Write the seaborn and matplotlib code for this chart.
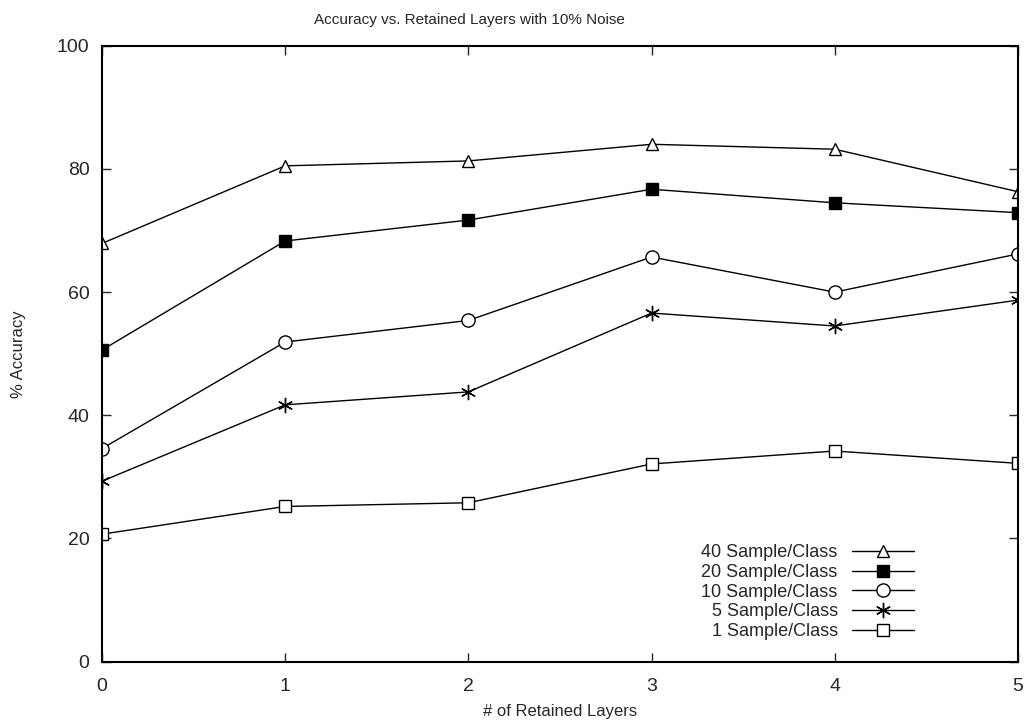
import numpy as np
import pandas as pd
import matplotlib
matplotlib.use('Agg')
import matplotlib.pyplot as plt
import seaborn as sns

# data
layers = [0, 1, 2, 3, 4, 5]
acc_40 = [67.9, 80.5, 81.3, 84.0, 83.2, 76.3]
acc_20 = [50.6, 68.3, 71.7, 76.7, 74.5, 72.9]
acc_10 = [34.6, 51.9, 55.4, 65.7, 60.0, 66.2]
acc_5 = [29.3, 41.7, 43.8, 56.6, 54.5, 58.7]
acc_1 = [20.7, 25.2, 25.8, 32.1, 34.2, 32.2]
labels = ['40 Sample/Class', '20 Sample/Class', '10 Sample/Class',
          '5 Sample/Class', '1 Sample/Class']
yticks = [0, 20, 40, 60, 80, 100]

series = [acc_40, acc_20, acc_10, acc_5, acc_1]
markers = ['^', 's', 'o', (6, 2, 0), 's']
faces = ['white', 'black', 'white', 'black', 'white']
msizes = [8.5, 9, 9.5, 11, 9]

sns.set_style('white')
plt.rcParams['font.family'] = ['Liberation Sans', 'DejaVu Sans']

fig = plt.figure(figsize=(10.28, 7.26), dpi=100)
ax = fig.add_axes([0.0992, 0.0886, 0.8910, 0.8484])

for vals, lab, m, fc, ms in zip(series, labels, markers, faces, msizes):
    sns.lineplot(x=layers, y=vals, ax=ax, color='black', linewidth=1.0,
                 marker=m, markersize=ms, markerfacecolor=fc,
                 markeredgecolor='black', markeredgewidth=1.0, label=lab)

ax.set_xlim(0, 5)
ax.set_ylim(0, 100)
ax.set_xticks(layers)
ax.set_yticks(yticks)
ax.tick_params(direction='in', length=6.5, width=1.0, labelsize=14,
               top=True, right=True, bottom=True, left=True, pad=9)
ax.tick_params(axis='x', pad=12)
for s in ax.spines.values():
    s.set_linewidth(1.5)
    s.set_color('black')

ax.set_xlabel('# of Retained Layers', fontsize=12, labelpad=6)
ax.set_ylabel('% Accuracy', fontsize=12, labelpad=22)
fig.text(0.457, 0.972, 'Accuracy vs. Retained Layers with 10% Noise',
         ha='center', va='center', fontsize=11)

leg = ax.legend(loc='lower right', bbox_to_anchor=(0.886, 0.035),
                frameon=False, markerfirst=False, fontsize=13,
                handlelength=3.4, labelspacing=0.15, borderpad=0,
                borderaxespad=0, handletextpad=0.8)

fig.savefig('out.png', dpi=100)
